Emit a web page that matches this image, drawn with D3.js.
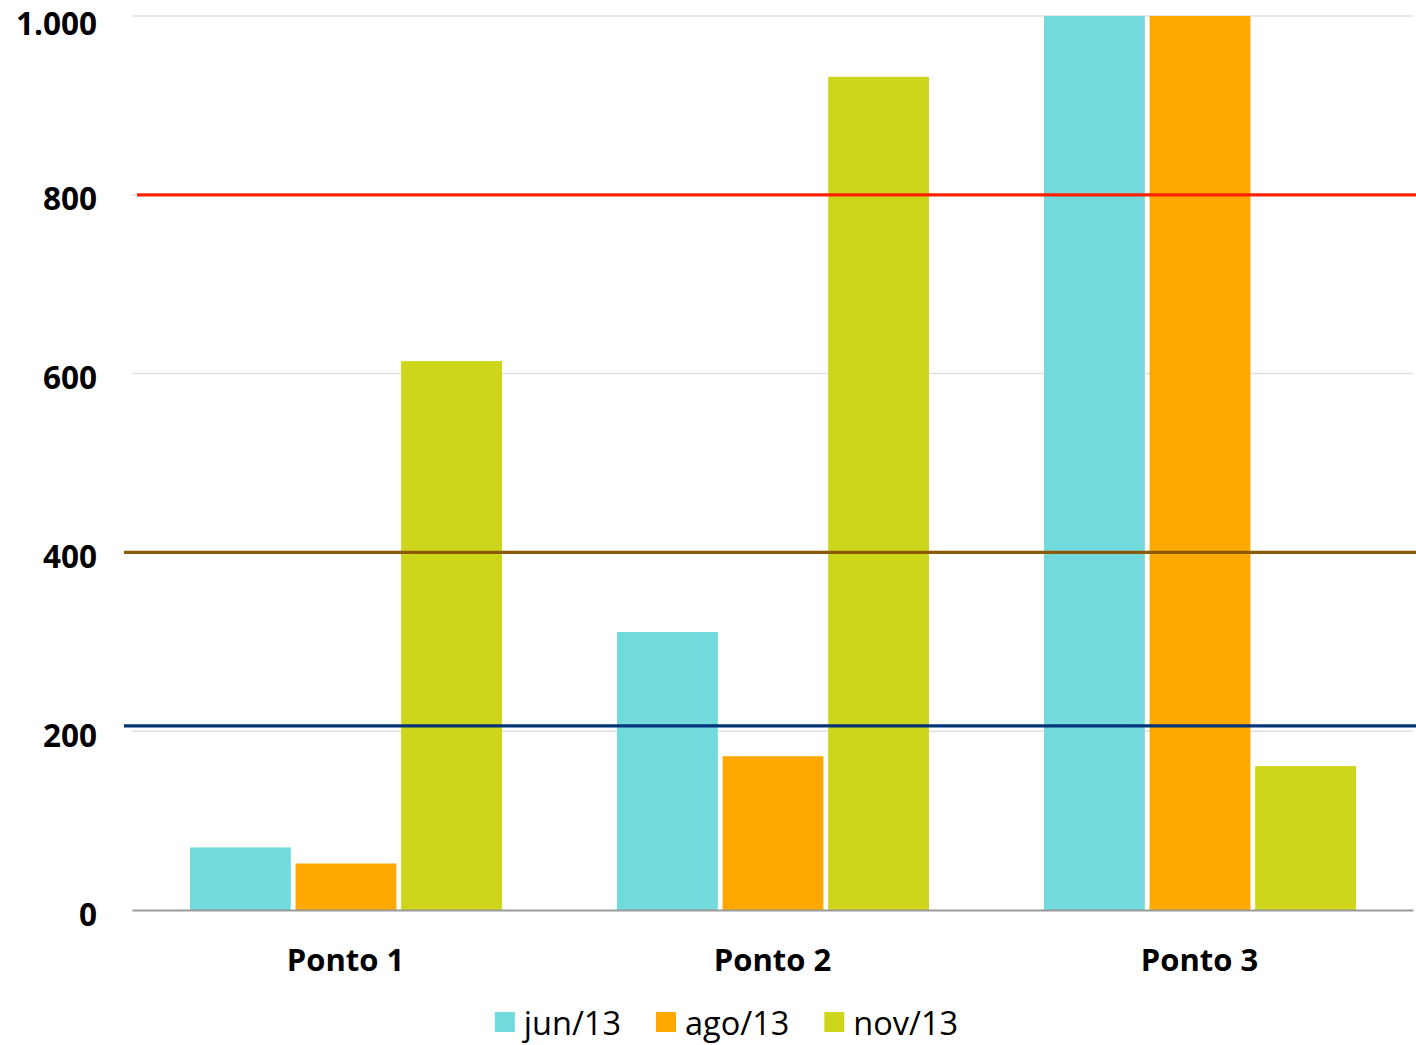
<!DOCTYPE html>
<html>
<head>
<meta charset="utf-8">
<script src="https://cdn.jsdelivr.net/npm/d3@7"></script>
<style>
  html, body { margin: 0; padding: 0; background: #fff; }
  svg { display: block; }
</style>
</head>
<body>
<svg id="chart" width="1416" height="1045"></svg>
<script>
// ---- data ----
const categories = ["Ponto 1", "Ponto 2", "Ponto 3"];
const seriesNames = ["jun/13", "ago/13", "nov/13"];
const jun13 = [70, 311, 1000];   // Ponto 3 exceeds the axis top (clipped at 1.000)
const ago13 = [52, 172, 1000];   // Ponto 3 exceeds the axis top (clipped at 1.000)
const nov13 = [614, 932, 161];
const yTicks = [0, 200, 400, 600, 800, 1000];
const yTickLabels = ["0", "200", "400", "600", "800", "1.000"];
const refLineValues = [800, 400, 206];

// ---- styles ----
const seriesColors = ["#72D9DC", "#FFA800", "#CED61B"];
const refLineColors = ["#FF2200", "#8B5A00", "#003478"];
const refLineStarts = [137, 124, 124];
const fontFamily = "'Open Sans', 'DejaVu Sans', sans-serif";

const svg = d3.select("#chart");
const plotLeft = 132, plotRight = 1413, plotTop = 16, plotBottom = 910;

const x = d3.scaleBand().domain(categories).range([plotLeft, plotRight]).paddingInner(0).paddingOuter(0);
const xSub = d3.scaleBand().domain(seriesNames).range([58, 58 + 312]).paddingInner(0.045).paddingOuter(0);
const y = d3.scaleLinear().domain([0, 1000]).range([plotBottom, plotTop]).clamp(true);

const seriesValues = [jun13, ago13, nov13];

// gridlines
svg.append("g").selectAll("line").data(yTicks.filter(d => d > 0)).join("line")
  .attr("x1", plotLeft).attr("x2", plotRight)
  .attr("y1", d => y(d)).attr("y2", d => y(d))
  .attr("stroke", "#e0e0e0").attr("stroke-width", 1.5);

// y axis labels
const yAxis = d3.axisLeft(y).tickValues(yTicks).tickFormat((d, i) => yTickLabels[i]).tickSize(0).tickPadding(0);
const yg = svg.append("g").attr("transform", "translate(97,0)").call(yAxis);
yg.select(".domain").remove();
yg.selectAll("text")
  .attr("font-family", fontFamily).attr("font-weight", "700").attr("font-size", 31.5)
  .attr("fill", "#000").attr("dy", 0).attr("y", d => Math.max(15, 34 - y(d)));

// bars
const barData = [];
categories.forEach((c, ci) => {
  seriesNames.forEach((s, si) => {
    barData.push({ cat: c, series: s, value: seriesValues[si][ci], color: seriesColors[si] });
  });
});
svg.append("g").selectAll("rect").data(barData).join("rect")
  .attr("x", d => x(d.cat) + xSub(d.series))
  .attr("width", xSub.bandwidth())
  .attr("y", d => y(d.value))
  .attr("height", d => y(0) - y(d.value))
  .attr("fill", d => d.color);

// baseline axis
const xAxis = d3.axisBottom(x).tickSize(0).tickPadding(0);
const xg = svg.append("g").attr("transform", `translate(0,${plotBottom})`).call(xAxis);
xg.select(".domain").attr("stroke", "#999").attr("stroke-width", 2);
xg.selectAll("text")
  .attr("font-family", fontFamily).attr("font-weight", "700").attr("font-size", 31)
  .attr("fill", "#000").attr("dy", 0).attr("y", 61);

// reference lines
svg.append("g").selectAll("line").data(refLineValues).join("line")
  .attr("x1", (d, i) => refLineStarts[i]).attr("x2", 1416)
  .attr("y1", d => y(d)).attr("y2", d => y(d))
  .attr("stroke", (d, i) => refLineColors[i]).attr("stroke-width", 3.2);

// legend
const legend = svg.append("g");
const items = legend.selectAll("g").data(seriesNames).join("g");
items.append("rect").attr("width", 20).attr("height", 20).attr("y", 1012)
  .attr("fill", (d, i) => seriesColors[i]);
items.append("text").text(d => d)
  .attr("x", 29).attr("y", 1035)
  .attr("font-family", fontFamily).attr("font-size", 32.5).attr("fill", "#000");
let cx = 0;
const positions = [];
items.each(function () {
  const w = d3.select(this).select("text").node().getComputedTextLength();
  positions.push(cx);
  cx += 29 + w + 35;
});
const total = cx - 35;
const startX = 726.5 - total / 2;
items.attr("transform", (d, i) => `translate(${startX + positions[i]},0)`);
</script>
</body>
</html>
